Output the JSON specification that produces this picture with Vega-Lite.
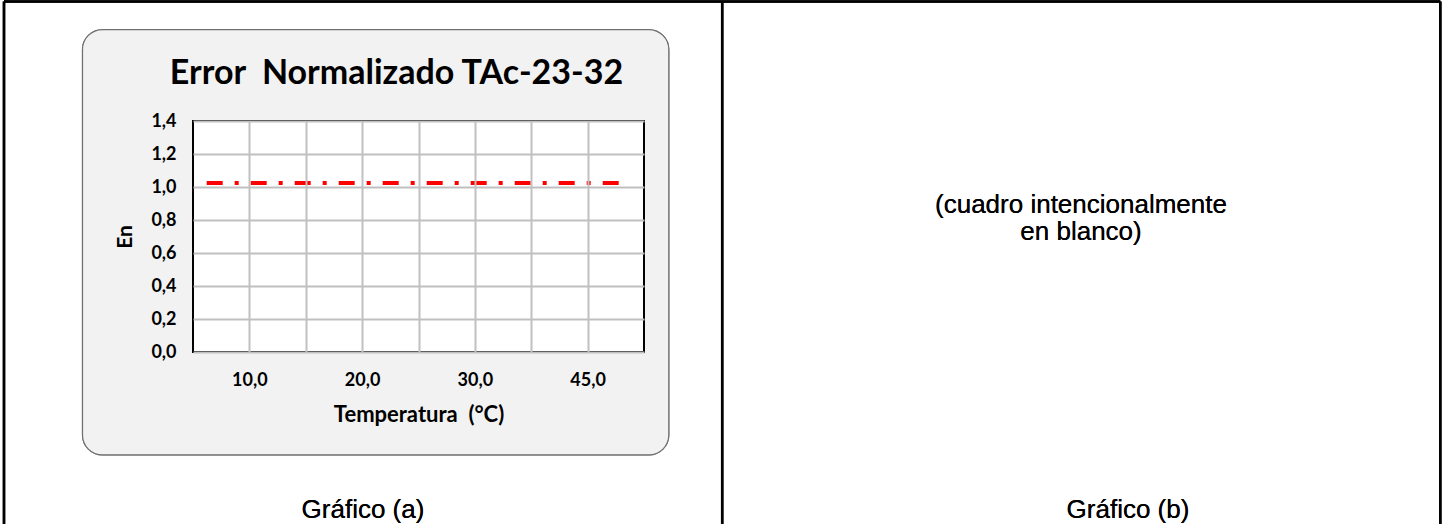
{
  "$schema": "https://vega.github.io/schema/vega-lite/v6.json",
  "width": 451,
  "height": 231,
  "autosize": {"type": "none"},
  "padding": {"left": 193, "top": 121, "right": 798, "bottom": 172},
  "background": "white",
  "title": {
    "text": "Error\u00a0 Normalizado TAc-23-32",
    "font": "Lato",
    "fontSize": 34,
    "fontWeight": "bold",
    "color": "black",
    "anchor": "middle",
    "frame": "group",
    "dx": -22,
    "offset": -118,
    "baseline": "alphabetic"
  },
  "data": {
    "values": [
      {"pos": 0.6215, "En": 1.025},
      {"pos": 4.2783, "En": 1.025}
    ]
  },
  "layer": [
    {
      "mark": {"type": "rule", "color": "black", "strokeWidth": 2.5},
      "encoding": {
        "x": {"datum": -1.1763},
        "x2": {"datum": 11.5625},
        "y": {"datum": 2.1242}
      }
    },
    {
      "mark": {"type": "rule", "color": "black", "strokeWidth": 2.5},
      "encoding": {
        "x": {"datum": -1.1763},
        "y": {"datum": 2.1242},
        "y2": {"datum": -1.3}
      }
    },
    {
      "mark": {"type": "rule", "color": "black", "strokeWidth": 2.5},
      "encoding": {
        "x": {"datum": 5.1936},
        "y": {"datum": 2.1242},
        "y2": {"datum": -1.3}
      }
    },
    {
      "mark": {"type": "rule", "color": "black", "strokeWidth": 2.5},
      "encoding": {
        "x": {"datum": 11.5625},
        "y": {"datum": 2.1242},
        "y2": {"datum": -1.3}
      }
    },
    {
      "mark": {"type": "rect", "fill": "#f2f2f2", "stroke": "#6f6f6f", "strokeWidth": 1.2, "cornerRadius": 20},
      "encoding": {
        "x": {"datum": -0.48},
        "x2": {"datum": 4.72},
        "y": {"datum": 1.954},
        "y2": {"datum": -0.624}
      }
    },
    {
      "mark": {"type": "rect", "fill": "white"},
      "encoding": {
        "x": {"datum": 0.5},
        "x2": {"datum": 4.5},
        "y": {"datum": 0},
        "y2": {"datum": 1.4}
      }
    },
    {
      "mark": {"type": "line", "color": "#ff0000", "strokeWidth": 4, "strokeDash": [16, 12, 4, 12], "strokeCap": "butt"},
      "encoding": {
        "x": {
          "field": "pos",
          "type": "quantitative",
          "scale": {"domain": [0.5, 4.5], "nice": false, "zero": false},
          "axis": {
            "title": "Temperatura\u00a0 (°C)",
            "zindex": 1,
            "values": [1, 1.5, 2, 2.5, 3, 3.5, 4],
            "tickCount": 20,
            "labelExpr": "datum.value == 1 ? '10,0' : datum.value == 2 ? '20,0' : datum.value == 3 ? '30,0' : datum.value == 4 ? '45,0' : ''",
            "labelOverlap": false,
            "labelPadding": 28,
            "titlePadding": 15,
            "titleFontSize": 22
          }
        },
        "y": {
          "field": "En",
          "type": "quantitative",
          "scale": {"domain": [0, 1.4], "nice": false, "zero": false},
          "axis": {
            "title": "En",
            "zindex": 1,
            "values": [0, 0.2, 0.4, 0.6, 0.8, 1.0, 1.2, 1.4],
            "tickCount": 20,
            "labelExpr": "replace(format(datum.value, '.1f'), '.', ',')",
            "labelOverlap": false,
            "labelPadding": 17,
            "titlePadding": 15,
            "titleFontSize": 21
          }
        }
      }
    },
    {
      "mark": {"type": "rect", "fill": null, "stroke": "black", "strokeWidth": 2},
      "encoding": {
        "x": {"datum": 0.5},
        "x2": {"datum": 4.5},
        "y": {"datum": 0},
        "y2": {"datum": 1.4}
      }
    },
    {
      "mark": {"type": "text", "font": "Liberation Sans", "fontSize": 26, "lineHeight": 27, "color": "black", "align": "center", "baseline": "middle"},
      "encoding": {
        "x": {"datum": 8.3758},
        "y": {"datum": 0.8909},
        "text": {"value": ["(cuadro intencionalmente", "en blanco)"]}
      }
    },
    {
      "mark": {"type": "text", "font": "Liberation Sans", "fontSize": 26, "color": "black", "align": "center", "baseline": "middle"},
      "encoding": {
        "x": {"datum": 2.0078},
        "y": {"datum": -0.9576},
        "text": {"value": "Gráfico (a)"}
      }
    },
    {
      "mark": {"type": "text", "font": "Liberation Sans", "fontSize": 26, "color": "black", "align": "center", "baseline": "middle"},
      "encoding": {
        "x": {"datum": 8.7927},
        "y": {"datum": -0.9576},
        "text": {"value": "Gráfico (b)"}
      }
    }
  ],
  "config": {
    "view": {"stroke": null, "fill": null},
    "axis": {
      "grid": true,
      "gridColor": "#c0c0c0",
      "gridWidth": 2,
      "domain": false,
      "ticks": false,
      "tickSize": 0,
      "labelFont": "Lato",
      "labelFontSize": 18,
      "labelFontWeight": "bold",
      "labelColor": "black",
      "labelOverlap": false,
      "labelFlush": false,
      "titleFont": "Lato",
      "titleFontSize": 20,
      "titleFontWeight": "bold",
      "titleColor": "black"
    },
    "axisX": {"labelBaseline": "middle"}
  }
}
